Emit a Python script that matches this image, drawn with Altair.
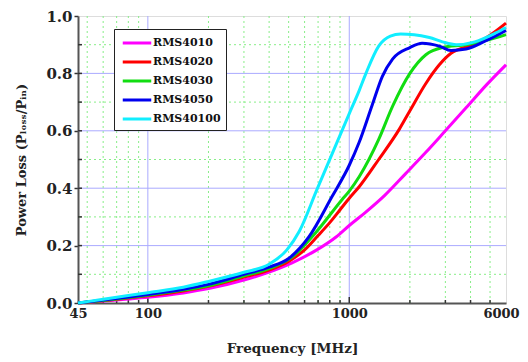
import altair as alt
import pandas as pd

# ---- data ----
series_names = ["RMS4010", "RMS4020", "RMS4030", "RMS4050", "RMS40100"]
series_colors = ["#ff00ff", "#ff0000", "#11dd11", "#0000ee", "#11eeff"]

f_4010 = [45, 60, 80, 100, 150, 200, 300, 390, 520, 690, 860, 1000, 1200, 1500, 1900, 2400, 3000, 3800, 4800, 6000]
v_4010 = [0.0, 0.007, 0.014, 0.02, 0.035, 0.05, 0.08, 0.105, 0.14, 0.185, 0.23, 0.27, 0.315, 0.375, 0.45, 0.525, 0.60, 0.68, 0.76, 0.83]

f_4020 = [45, 60, 80, 100, 150, 200, 300, 400, 500, 600, 700, 800, 900, 1000, 1120, 1400, 1770, 2000, 2400, 2800, 3200, 3900, 4800, 6000]
v_4020 = [0.0, 0.008, 0.017, 0.025, 0.042, 0.058, 0.09, 0.115, 0.145, 0.185, 0.235, 0.28, 0.325, 0.365, 0.405, 0.50, 0.605, 0.67, 0.765, 0.83, 0.87, 0.895, 0.925, 0.975]

f_4030 = [45, 60, 80, 100, 150, 200, 300, 400, 520, 690, 920, 1000, 1120, 1400, 1640, 2000, 2400, 2900, 3800, 4800, 6000]
v_4030 = [0.0, 0.009, 0.019, 0.027, 0.045, 0.06, 0.095, 0.12, 0.16, 0.25, 0.36, 0.39, 0.44, 0.57, 0.685, 0.80, 0.865, 0.89, 0.90, 0.915, 0.935]

f_4050 = [45, 60, 80, 100, 150, 200, 300, 400, 500, 630, 820, 1000, 1120, 1300, 1460, 1640, 2000, 2300, 2800, 3200, 3800, 4800, 6000]
v_4050 = [0.0, 0.01, 0.021, 0.03, 0.048, 0.065, 0.10, 0.125, 0.155, 0.23, 0.37, 0.48, 0.56, 0.69, 0.79, 0.85, 0.89, 0.905, 0.895, 0.88, 0.885, 0.915, 0.95]

f_40100 = [45, 60, 80, 100, 150, 200, 300, 400, 490, 565, 690, 820, 1000, 1120, 1210, 1400, 1600, 1800, 2100, 2500, 2900, 3400, 4200, 5300, 6000]
v_40100 = [0.0, 0.013, 0.026, 0.036, 0.055, 0.075, 0.107, 0.135, 0.185, 0.25, 0.394, 0.518, 0.66, 0.74, 0.80, 0.895, 0.93, 0.937, 0.935, 0.925, 0.91, 0.90, 0.91, 0.94, 0.96]

x_tick_labels = [45, 100, 1000, 6000]
y_tick_labels = [0.0, 0.2, 0.4, 0.6, 0.8, 1.0]
x_major_grid = [100, 1000]
x_minor_grid = [50, 60, 70, 80, 90, 200, 300, 400, 500, 600, 700, 800, 900, 2000, 3000, 4000, 5000]
y_major_grid = [0.2, 0.4, 0.6, 0.8]
y_minor_grid = [0.1, 0.3, 0.5, 0.7, 0.9]
y_ticks = [0.1, 0.2, 0.3, 0.4, 0.5, 0.6, 0.7, 0.8, 0.9]

# ---- build tables ----
rows = []
for name, fs, vs in zip(series_names,
                        [f_4010, f_4020, f_4030, f_4050, f_40100],
                        [v_4010, v_4020, v_4030, v_4050, v_40100]):
    for f, v in zip(fs, vs):
        rows.append({"series": name, "f": f, "v": v})
df = pd.DataFrame(rows)

W, H = 428, 287
FONT = "DejaVu Serif"

xs = alt.Scale(type="log", domain=[45, 6000], nice=False)
ys = alt.Scale(domain=[0, 1], nice=False)

x_axis = alt.Axis(values=x_tick_labels, title="Frequency [MHz]", grid=False,
                  ticks=False, labelFlush=False, labelPadding=4,
                  labelOffset={"expr": "datum.value == 6000 ? -5 : 0"},
                  labelFont=FONT, labelFontSize=13, labelFontWeight="bold",
                  labelColor="#222222", format="d", labelOverlap=False,
                  titleFont=FONT, titleFontSize=13.5, titleFontWeight="bold",
                  titlePadding=21, titleColor="#222222",
                  domainColor="#555555", domainWidth=2)
y_axis = alt.Axis(values=y_tick_labels, title="Power Loss (Pₗₒₛₛ/Pᵢₙ)", grid=False,
                  ticks=True, tickSize=4, tickColor="#333333", tickWidth=1.5,
                  labelPadding=2, format=".1f",
                  labelFont=FONT, labelFontSize=15, labelFontWeight="bold",
                  labelColor="#222222",
                  titleFont=FONT, titleFontSize=13, titleFontWeight="bold",
                  titlePadding=17, titleColor="#222222",
                  domainColor="#555555", domainWidth=2)

X = lambda: alt.X("f:Q", scale=xs, axis=x_axis)
Y = lambda: alt.Y("v:Q", scale=ys, axis=y_axis)

xminor = alt.Chart(pd.DataFrame({"f": x_minor_grid})).mark_rule(
    color="#88ee88", strokeWidth=1, strokeDash=[2, 3]
).encode(x=X())
yminor = alt.Chart(pd.DataFrame({"v": y_minor_grid})).mark_rule(
    color="#88ee88", strokeWidth=1, strokeDash=[2, 3]
).encode(y=Y())
xmajor = alt.Chart(pd.DataFrame({"f": x_major_grid})).mark_rule(
    color="#aaaaff", strokeWidth=1
).encode(x=X())
ymajor = alt.Chart(pd.DataFrame({"v": y_major_grid})).mark_rule(
    color="#aaaaff", strokeWidth=1
).encode(y=Y())

xticks_minor = alt.Chart(pd.DataFrame({"f": x_minor_grid})).mark_rule(
    color="#333333", strokeWidth=1.5
).encode(x=X(), y=alt.value(H), y2=alt.value(H - 3))
xticks_major = alt.Chart(pd.DataFrame({"f": x_major_grid})).mark_rule(
    color="#333333", strokeWidth=1.5
).encode(x=X(), y=alt.value(H), y2=alt.value(H - 6))
yticks = alt.Chart(pd.DataFrame({"v": y_ticks})).mark_rule(
    color="#333333", strokeWidth=1.5
).encode(y=Y(), x=alt.value(0), x2=alt.value(4))

lines = alt.Chart(df).mark_line(strokeWidth=3, interpolate="monotone").encode(
    x=X(),
    y=Y(),
    color=alt.Color("series:N",
                    scale=alt.Scale(domain=series_names, range=series_colors),
                    legend=alt.Legend(title=None, orient="none", legendX=36, legendY=13,
                                      symbolType="M-1.9,0H1.9", symbolStrokeWidth=3,
                                      symbolSize=225, symbolOffset=9,
                                      labelFont=FONT, labelFontSize=11,
                                      labelFontWeight="bold", labelColor="#111111",
                                      rowPadding=4, padding=5, labelOffset=7,
                                      fillColor="white", strokeColor="#222222")),
)

chart = alt.layer(xminor, yminor, xmajor, ymajor, xticks_minor, xticks_major, yticks, lines).properties(
    width=W, height=H,
    autosize=alt.AutoSizeParams(type="none"),
    padding={"left": 70, "top": 8, "right": 14, "bottom": 54},
).configure_view(stroke="#777777", strokeWidth=2).configure(background="white")

chart.save("out.html", embed_options={"renderer": "svg", "actions": False})
